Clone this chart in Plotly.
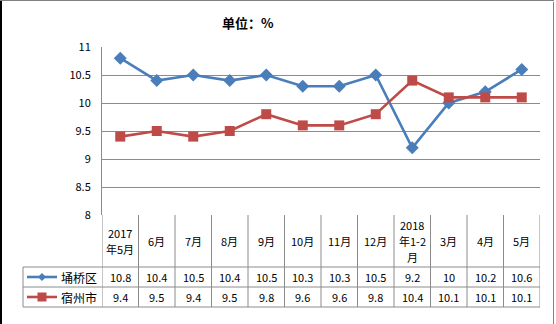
import plotly.graph_objects as go

categories = ["2017<br>年5月", "6月", "7月", "8月", "9月", "10月", "11月", "12月",
              "2018<br>年1-2<br>月", "3月", "4月", "5月"]
series_names = ["埇桥区", "宿州市"]
yongqiao = [10.8, 10.4, 10.5, 10.4, 10.5, 10.3, 10.3, 10.5, 9.2, 10, 10.2, 10.6]
suzhou = [9.4, 9.5, 9.4, 9.5, 9.8, 9.6, 9.6, 9.8, 10.4, 10.1, 10.1, 10.1]
y_ticks = [8, 8.5, 9, 9.5, 10, 10.5, 11]

W, H = 556, 324
ML, MR, MT, MB = 102, 16, 47, 109
PW = W - ML - MR
PH = H - MT - MB

def px(p):  # pixel x -> paper
    return (p - ML) / PW

def py(q):  # pixel y -> paper
    return (H - MB - q) / PH

BLUE = "#4A7EBB"
RED = "#BE4B48"
GRID = "#8C8C8C"
FONT = "Noto Sans CJK SC"

xs = list(range(len(categories)))
fig = go.Figure()
fig.add_trace(go.Scatter(x=xs, y=yongqiao, mode="lines+markers", name=series_names[0],
                         line=dict(color=BLUE, width=2.6),
                         marker=dict(symbol="diamond", size=10, color=BLUE)))
fig.add_trace(go.Scatter(x=xs, y=suzhou, mode="lines+markers", name=series_names[1],
                         line=dict(color=RED, width=2.6),
                         marker=dict(symbol="square", size=10, color=RED)))

shapes = []
ann = []
row_top, row_h1, row_h2, row_bot = 215, 267, 287, 307
tbl_left = 23
for q in (row_h1, row_h2, row_bot):
    shapes.append(dict(type="line", xref="paper", yref="paper", x0=px(tbl_left), x1=1,
                       y0=py(q), y1=py(q), line=dict(color=GRID, width=1)))
for i in range(len(categories) + 1):
    shapes.append(dict(type="line", xref="x", yref="paper", x0=i - 0.5, x1=i - 0.5,
                       y0=0, y1=py(row_bot), line=dict(color=GRID, width=1)))
shapes.append(dict(type="line", xref="paper", yref="paper", x0=px(tbl_left), x1=px(tbl_left),
                   y0=py(row_h1), y1=py(row_bot), line=dict(color=GRID, width=1)))

LINE_H = 16
hc = (row_top + row_h1) / 2
for i, c in enumerate(categories):
    parts = c.split("<br>")
    n = len(parts)
    for k, part in enumerate(parts):
        yy = hc + (k - (n - 1) / 2) * LINE_H
        ann.append(dict(x=i, y=py(yy), xref="x", yref="paper",
                        xanchor="center", yanchor="middle",
                        text=part, showarrow=False, font=dict(family=FONT, size=11, color="#000")))
for vals, (a, b) in [(yongqiao, (row_h1, row_h2)), (suzhou, (row_h2, row_bot))]:
    for i, v in enumerate(vals):
        ann.append(dict(x=i, y=py((a + b) / 2), xref="x", yref="paper",
                        xanchor="center", yanchor="middle",
                        text=f"{v:g}", showarrow=False,
                        font=dict(family=FONT, size=11, color="#000")))
for name, color, sym, (a, b) in [(series_names[0], BLUE, "diamond", (row_h1, row_h2)),
                                  (series_names[1], RED, "square", (row_h2, row_bot))]:
    cy = (a + b) / 2
    yc = py(cy)
    shapes.append(dict(type="line", xref="paper", yref="paper", x0=px(27), x1=px(57),
                       y0=yc, y1=yc, line=dict(color=color, width=2.6)))
    cx = 42
    if sym == "diamond":
        path = f"M {px(cx-4)} {py(cy)} L {px(cx)} {py(cy-4)} L {px(cx+4)} {py(cy)} L {px(cx)} {py(cy+4)} Z"
        shapes.append(dict(type="path", xref="paper", yref="paper", path=path,
                           fillcolor=color, line=dict(color=color, width=0)))
    else:
        shapes.append(dict(type="rect", xref="paper", yref="paper", x0=px(cx - 4.5), x1=px(cx + 4.5),
                           y0=py(cy + 4.5), y1=py(cy - 4.5), fillcolor=color,
                           line=dict(color=color, width=0)))
    ann.append(dict(x=px(99), y=yc, xref="paper", yref="paper", xanchor="right", yanchor="middle",
                    text=name, showarrow=False, font=dict(family=FONT, size=12, color="#000")))

shapes.append(dict(type="line", xref="paper", yref="paper", x0=px(1), x1=px(1),
                   y0=py(0), y1=py(H), line=dict(color="#000", width=2)))
shapes.append(dict(type="line", xref="paper", yref="paper", x0=px(0), x1=px(554),
                   y0=py(0.5), y1=py(0.5), line=dict(color="#808080", width=1)))
shapes.append(dict(type="line", xref="paper", yref="paper", x0=px(553.5), x1=px(553.5),
                   y0=py(2), y1=py(H), line=dict(color="#808080", width=1)))

ann.append(dict(x=px(248), y=py(22), xref="paper", yref="paper", xanchor="center", yanchor="middle",
                text="<b>单位：%</b>", showarrow=False, font=dict(family=FONT, size=13, color="#000")))

fig.update_layout(
    width=W, height=H, margin=dict(l=ML, r=MR, t=MT, b=MB),
    paper_bgcolor="white", plot_bgcolor="white", showlegend=False,
    shapes=shapes, annotations=ann,
    xaxis=dict(range=[-0.5, len(categories) - 0.5], showticklabels=False, showgrid=False,
               zeroline=False, ticks=""),
    yaxis=dict(range=[8, 11], tickvals=y_ticks, ticktext=[f"{t:g}" for t in y_ticks],
               showgrid=True, gridcolor=GRID, gridwidth=1, zeroline=False,
               showline=True, linecolor=GRID, linewidth=1, ticks="",
               ticklabelstandoff=8,
               tickfont=dict(family=FONT, size=11, color="#000")),
)
fig.write_html("out.html")
